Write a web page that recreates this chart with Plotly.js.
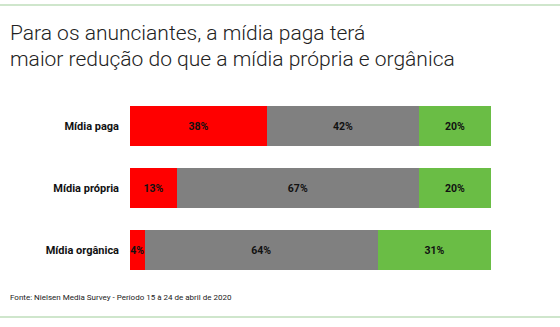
<!DOCTYPE html>
<html><head><meta charset="utf-8">
<script src="https://cdn.plot.ly/plotly-3.0.1.min.js"></script>
<style>html,body{margin:0;padding:0;background:#fff}#chart{width:560px;height:327px}</style>
</head><body><div id="chart"></div>
<script>
const categories = ['Mídia paga', 'Mídia própria', 'Mídia orgânica'];
const reduzir = [38, 13, 4];
const manter = [42, 67, 64];
const aumentar = [20, 20, 31];
const seriesColors = ['#ff0000', '#808080', '#6abd45'];
const titleLines = ['Para os anunciantes, a mídia paga terá', 'maior redução do que a mídia própria e orgânica'];
const sourceText = 'Fonte: Nielsen Media Survey - Período 15 à 24 de abril de 2020';

function trace(vals, color) {
  return {
    type: 'bar', orientation: 'h', y: categories, x: vals,
    marker: {color: color, line: {width: 0}},
    text: vals.map(v => v + '%'), textposition: 'inside', insidetextanchor: 'middle',
    textangle: 0, constraintext: 'none', cliponaxis: false,
    textfont: {family: 'Roboto', size: 10.5, color: '#111', weight: 'bold'},
    hoverinfo: 'none'
  };
}
const data = [trace(reduzir, seriesColors[0]), trace(manter, seriesColors[1]), trace(aumentar, seriesColors[2])];

const L = 130, R = 69, T = 95, B = 46;
const pw = 560 - L - R, ph = 327 - T - B;
const py = y => (ph + T - y) / ph;
const px = x => (x - L) / pw;
const layout = {
  width: 560, height: 327, barmode: 'stack', barnorm: 'percent', bargap: 0.355,
  showlegend: false, paper_bgcolor: '#fff', plot_bgcolor: '#fff',
  margin: {l: L, r: R, t: T, b: B},
  xaxis: {visible: false, range: [0, 100], fixedrange: true},
  yaxis: {autorange: 'reversed', showgrid: false, zeroline: false, showline: false, ticks: '',
    ticklabelstandoff: 10,
    tickfont: {family: 'Roboto', size: 11, color: '#111', weight: 'bold'}},
  shapes: [
    {type: 'line', xref: 'paper', yref: 'paper', x0: px(0), x1: px(560), y0: py(5), y1: py(5), line: {color: '#cfe6cc', width: 2}},
    {type: 'line', xref: 'paper', yref: 'paper', x0: px(0), x1: px(560), y0: py(317), y1: py(317), line: {color: '#cfe6cc', width: 2}}
  ],
  annotations: [
    {text: titleLines[0], xref: 'paper', yref: 'paper', x: px(8), xanchor: 'left', y: py(33), yanchor: 'middle',
     showarrow: false, font: {family: 'Roboto', size: 21, color: '#222', weight: 300}},
    {text: titleLines[1], xref: 'paper', yref: 'paper', x: px(8), xanchor: 'left', y: py(59), yanchor: 'middle',
     showarrow: false, font: {family: 'Roboto', size: 21, color: '#222', weight: 300}},
    {text: sourceText, xref: 'paper', yref: 'paper', x: px(8), xanchor: 'left', y: py(297), yanchor: 'middle',
     showarrow: false, font: {family: 'Roboto', size: 8, color: '#222'}}
  ]
};
Plotly.newPlot('chart', data, layout, {displayModeBar: false, staticPlot: true});
</script></body></html>
